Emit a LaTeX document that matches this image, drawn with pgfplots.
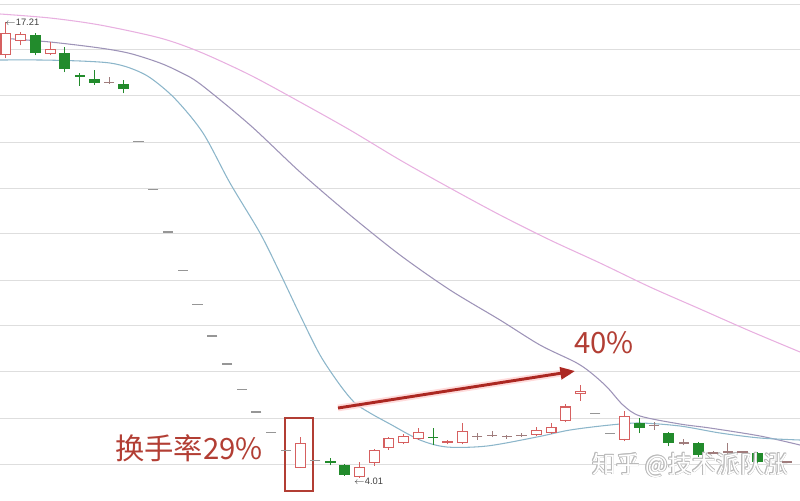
\documentclass[border=0pt]{standalone}
\usepackage{pgfplots}
\pgfplotsset{compat=1.18}
\usepackage{pgfplotstable}
\usepackage{fontspec}
\setmainfont{Liberation Sans}
\newfontfamily\cjk{Noto Sans CJK SC}
\usetikzlibrary{arrows.meta}
\definecolor{upred}{RGB}{214,96,96}
\definecolor{dngreen}{RGB}{34,139,44}
\definecolor{dashgray}{RGB}{150,150,150}
\definecolor{crossc}{RGB}{160,125,125}
\definecolor{mateal}{RGB}{140,182,202}
\definecolor{mapurple}{RGB}{158,148,184}
\definecolor{mapink}{RGB}{232,176,224}
\definecolor{annred}{RGB}{178,62,52}
\definecolor{arrowred}{RGB}{172,40,34}
\definecolor{gridc}{RGB}{222,222,222}
\definecolor{wmark}{RGB}{185,185,185}

% rising (hollow) candles: index open high low close
\pgfplotstableread{
i o h l c
1 16.25 17.21 16.17 16.89
2 16.66 16.92 16.54 16.86
4 16.28 16.63 16.25 16.43
21 4.30 5.20 4.30 5.02
25 4.04 4.47 4.01 4.33
26 4.44 4.86 4.36 4.82
27 4.88 5.20 4.82 5.17
28 5.02 5.28 4.99 5.23
29 5.14 5.46 5.11 5.34
31 5.02 5.11 4.99 5.08
32 5.02 5.60 4.99 5.37
37 5.25 5.49 5.22 5.40
38 5.31 5.60 5.28 5.48
39 5.66 6.14 5.63 6.08
40 6.44 6.70 6.24 6.53
43 5.12 5.95 5.08 5.80
}\upT

% falling (green) candles
\pgfplotstableread{
i o h l c
3 16.83 16.89 16.25 16.31
5 16.31 16.49 15.76 15.85
7 15.56 15.82 15.39 15.44
9 15.42 15.53 15.15 15.27
23 4.50 4.58 4.38 4.44
24 4.38 4.42 4.07 4.10
44 5.60 5.75 5.31 5.46
46 5.31 5.33 4.93 5.02
48 5.02 5.04 4.62 4.67
52 4.73 4.76 4.44 4.47
}\dnT

% one-price limit-down days
\pgfplotstableread{
i p
10 13.74
11 12.37
12 11.13
13 10.02
14 9.02
15 8.12
16 7.31
17 6.58
18 5.92
19 5.33
20 4.80
22 4.52
41 5.88
42 5.29
}\dashT

% doji / crosses
\pgfplotstableread{
i p h l
8 15.45 15.62 15.42
33 5.20 5.31 5.11
34 5.25 5.37 5.20
35 5.20 5.25 5.14
36 5.25 5.31 5.20
45 5.54 5.63 5.40
47 5.02 5.14 4.96
49 4.73 4.78 4.70
50 4.76 5.02 4.70
51 4.76 4.80 4.72
54 4.47 4.50 4.44
}\crossT

\pgfplotstableread{
i p h l
6 15.65 15.73 15.36
30 5.19 5.46 4.96
}\crossG

\pgfplotsset{
  bar/.style={only marks, mark=*, mark size=0pt, mark options={draw=none, fill=none},
    error bars/.cd, y dir=plus, y explicit, error mark=none,
    error bar style={#1}},
}

\newcommand\wm[2]{\node[wmark, font=\cjk\fontsize{18pt}{20pt}\selectfont] at ([xshift=#1, yshift=#2]axis cs:47.44,4.385) {知乎 @技术派队涨};}

\begin{document}
\begin{tikzpicture}
\begin{axis}[
  width=600pt, height=375pt, scale only axis,
  xmin=0.593, xmax=54.905, ymin=3.372, ymax=17.847,
  enlargelimits=false,
  axis line style={draw=none}, tick style={draw=none},
  xtick=\empty,
  ytick={4.414,5.746,7.078,8.410,9.741,11.073,12.404,13.736,15.068,16.400,17.731},
  yticklabels={},
  ymajorgrids, grid style={gridc, line width=0.75pt},
  clip=true,
]
% moving averages
\addplot[mapink, line width=0.8pt, smooth] coordinates {
(0.593,17.442) (3.987,17.326) (7.382,17.123) (11.455,16.747) (14.171,16.342)
(17.565,15.676) (20.960,14.894) (24.354,14.083) (27.748,13.215) (31.143,12.404)
(34.537,11.623) (37.932,10.899) (41.326,10.233) (44.721,9.538) (48.115,8.902)
(51.510,8.264) (54.905,7.657)};
\addplot[mapurple, line width=0.8pt, smooth] coordinates {
(0.593,16.747) (3.987,16.631) (7.382,16.457) (9.418,16.300) (11.455,16.023)
(12.813,15.760) (14.171,15.420) (17.565,14.228) (20.960,12.868) (24.354,11.623)
(27.748,10.465) (31.143,9.452) (34.537,8.583) (37.253,7.859) (39.629,7.367)
(40.647,7.078) (41.801,6.643) (42.888,6.122) (44.042,5.804) (46.757,5.572)
(48.794,5.456) (52.189,5.225) (54.905,4.964)};
\addplot[mateal, line width=0.8pt, smooth] coordinates {
(0.593,16.110) (3.308,16.110) (6.024,16.081) (8.060,16.023) (9.418,15.878)
(10.776,15.600) (12.473,14.990) (14.374,13.997) (16.207,12.549) (18.244,11.102)
(19.601,9.944) (20.959,8.728) (22.317,7.570) (23.675,6.701) (24.694,6.180)
(25.712,5.891) (27.070,5.572) (29.106,5.109) (30.939,4.906) (33.655,4.935)
(37.049,5.196) (39.290,5.398) (42.005,5.543) (44.042,5.601) (46.758,5.514)
(49.473,5.312) (52.189,5.167) (54.905,5.109)};

% wicks
\addplot[bar={upred, line width=0.75pt}] table[x=i, y=l, y error expr=\thisrow{h}-\thisrow{l}] {\upT};
\addplot[bar={dngreen, line width=0.75pt}] table[x=i, y=l, y error expr=\thisrow{h}-\thisrow{l}] {\dnT};
\addplot[bar={crossc, line width=0.75pt}] table[x=i, y=l, y error expr=\thisrow{h}-\thisrow{l}] {\crossT};
\addplot[bar={dngreen, line width=0.75pt}] table[x=i, y=l, y error expr=\thisrow{h}-\thisrow{l}] {\crossG};

% bodies
\addplot[bar={upred, line width=8.25pt}]
  table[x=i, y expr={min(\thisrow{o},\thisrow{c})}, y error expr={abs(\thisrow{c}-\thisrow{o})}] {\upT};
\addplot[bar={white, line width=6.6pt}]
  table[x=i, y expr={min(\thisrow{o},\thisrow{c})+0.031}, y error expr={max(abs(\thisrow{c}-\thisrow{o})-0.062,0)}] {\upT};
\addplot[bar={dngreen, line width=8.25pt}]
  table[x=i, y expr={min(\thisrow{o},\thisrow{c})}, y error expr={abs(\thisrow{c}-\thisrow{o})}] {\dnT};

% flat days
\addplot[only marks, mark=-, mark size=3.8pt, mark options={dashgray, line width=0.8pt}]
  table[x=i, y=p] {\dashT};
\addplot[only marks, mark=-, mark size=3.8pt, mark options={crossc, line width=0.9pt}]
  table[x=i, y=p] {\crossT};
\addplot[only marks, mark=-, mark size=3.8pt, mark options={dngreen, line width=1pt}]
  table[x=i, y=p] {\crossG};

% annotations
\draw[annred, line width=1.6pt] (axis cs:19.94,5.746) rectangle (axis cs:21.84,3.632);
\draw[red!20, line width=5pt, opacity=0.7] (axis cs:23.54,6.035) -- (axis cs:39.3,7.085);
\draw[arrowred, line width=2.2pt, -{Triangle[length=11pt,width=9pt]}] (axis cs:23.54,6.035) -- (axis cs:39.63,7.106);
\node[annred, font=\cjk\fontsize{22pt}{24pt}\selectfont] at (axis cs:13.42,4.878) {换手率29\%};
\node[annred, font=\cjk\fontsize{22pt}{24pt}\selectfont] at (axis cs:41.60,7.917) {40\%};
\node[anchor=west, text=black!75, font=\fontsize{7pt}{8pt}\selectfont, inner sep=0pt] at (axis cs:0.93,17.19) {$\leftarrow$17.21};
\node[anchor=west, text=black!75, font=\fontsize{7pt}{8pt}\selectfont, inner sep=0pt] at (axis cs:24.62,3.922) {$\leftarrow$4.01};
% outlined watermark
\wm{0.5pt}{0pt}\wm{-0.5pt}{0pt}\wm{0pt}{0.5pt}\wm{0pt}{-0.5pt}
\wm{0.4pt}{0.4pt}\wm{-0.4pt}{0.4pt}\wm{0.4pt}{-0.4pt}\wm{-0.4pt}{-0.4pt}
\node[white, font=\cjk\fontsize{18pt}{20pt}\selectfont] at (axis cs:47.44,4.385) {知乎 @技术派队涨};
\end{axis}
\pgfresetboundingbox
\useasboundingbox (current axis.south west) rectangle (current axis.north east);
\end{tikzpicture}
\end{document}
